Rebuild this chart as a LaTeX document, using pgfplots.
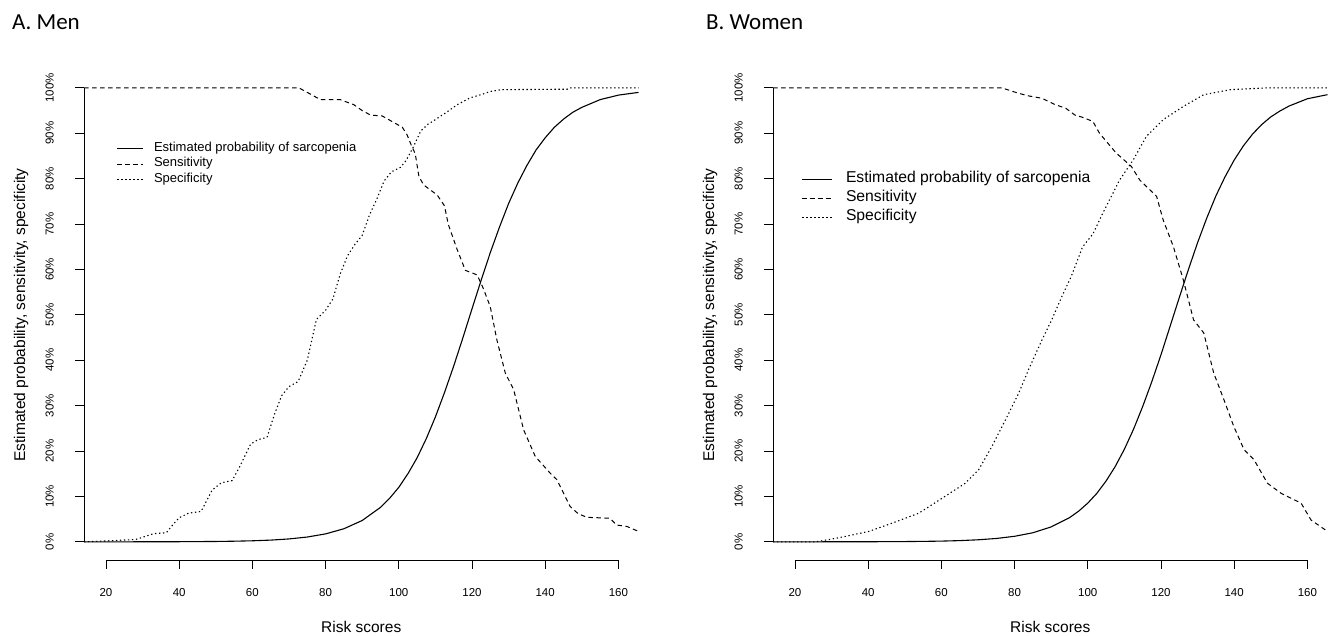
\documentclass[border=0pt]{standalone}
\usepackage{fontspec}
\setmainfont{Liberation Sans}
\newfontfamily\calibri{Carlito}
\usepackage{pgfplots}
\pgfplotsset{compat=1.18}
\usepackage{pgfplotstable}

% men, scores vs percent
\pgfplotstableread{
s p
14 0.0
30 0.01
40 0.03
50 0.08
55 0.14
60 0.23
65 0.38
70 0.64
75 1.06
80 1.75
85 2.88
90 4.70
95 7.59
97.5 9.58
100 12.0
102.5 15.0
105 18.5
107.5 22.7
110 27.5
112.5 32.9
115 38.7
117.5 44.9
120 51.3
122.5 57.6
125 63.7
127.5 69.3
130 74.5
132.5 79.0
135 82.9
137.5 86.3
140 89.0
142.5 91.3
145 93.1
147.5 94.6
150 95.7
155 97.4
160 98.4
165.5 99.0
}\menprob
\pgfplotstableread{
s p
14 100
72.7 100
75 99
78.6 97.4
84 97.4
87.7 96.3
90 95
92.3 94
95.5 93.8
97.7 92.8
101 91.3
102.3 89.6
103.6 87
104.5 85.5
105.5 80.5
106.8 78.6
110.5 76.4
112.5 74
113.5 70
115.9 64.5
118.2 59.8
121.4 58.8
123 56
125 51.8
126.8 44.5
129.1 37.2
131.4 33.5
134.1 24.7
137.3 18.8
141.4 15.1
143.2 13.7
146.8 7.8
149 6.2
151.4 5.4
157.7 5.2
159.5 3.7
162.3 3.4
165.5 2.3
}\mensens
\pgfplotstableread{
s p
14 0
20 0.2
25 0.4
28 0.5
30 1.0
33 1.8
36.5 2.0
38 3.5
40 5.3
42.5 6.3
46 6.7
49 11.4
51.5 13.0
54.5 13.5
56.5 16.5
59.5 21.5
61.5 22.5
64 23.0
66 28.0
68 32.2
70 34.2
72.5 35.3
75 40.0
77.5 49.0
80 51.0
82 53.5
84 59.0
86 63.0
88 65.5
90 67.5
92 72.0
94 75.5
96 79.5
98 81.5
100.5 82.5
102 84.0
104 87.0
106 90.5
108 92.0
110 93.0
113 94.6
116 96.3
119.5 97.8
122.5 98.5
125 99.2
128 99.6
146 99.7
147 100
165.5 100
}\menspec

% women
\pgfplotstableread{
s p
14 0.0
30 0.01
40 0.02
50 0.06
55 0.10
60 0.16
65 0.27
70 0.45
75 0.74
80 1.22
85 2.00
90 3.29
95 5.32
97.5 6.75
100 8.53
102.5 10.7
105 13.4
107.5 16.6
110 20.4
112.5 24.8
115 29.8
117.5 35.3
120 41.2
122.5 47.5
125 53.8
127.5 60.0
130 65.9
132.5 71.3
135 76.2
137.5 80.4
140 84.1
142.5 87.2
145 89.8
147.5 91.9
150 93.6
152.5 94.9
155 96.0
160 97.6
165.5 98.5
}\womprob
\pgfplotstableread{
s p
14 100
76.5 100
81.1 98.8
84 98.2
87.5 97.7
91.1 96.3
94 95.5
96.5 94
98.6 93.5
101.4 92.6
103.2 90
107.8 85.6
111.9 82.7
114.2 79.7
118.8 76.1
120.6 70.9
123.4 65
126.1 57.7
128.9 48.9
131.7 46
134.4 37.2
137.2 31.3
139.9 25.4
142.7 20.3
145.4 18.1
149.1 12.9
152.8 10.7
158.3 8.5
161 4.8
165.5 2.3
}\womsens
\pgfplotstableread{
s p
14 0
25.6 0
30 0.6
33.8 1.2
40.2 2.3
46.5 4.1
53.8 6.3
60.2 9.6
66.5 12.9
70.2 15.9
73.8 21
78.4 28.3
81.1 32.7
83.8 37.9
87.5 44.5
90.2 49
92.9 54
95.5 58.5
98.6 65
101.4 67.8
104.1 72.4
108.7 79.7
112.4 84.1
116 89.3
120.6 93
126.1 95.9
131.7 98.5
139 99.6
149 100
165.5 100
}\womspec

\pgfplotsset{
  rplot/.style={
    scale only axis, width=554.5pt, height=490.3pt,
    xmin=14, xmax=165.5, ymin=-4, ymax=104,
    clip=false,
    axis line style={draw=none},
    xtick={20,40,...,160}, ytick={0,10,...,100},
    yticklabel={\pgfmathprintnumber{\tick}\%},
    xtick pos=bottom, ytick pos=left,
    tick align=outside, major tick length=9pt,
    tick style={black, line width=0.8pt},
    /pgf/number format/assume math mode=true,
    tick label style={font=\fontsize{11.5}{13}\selectfont},
    yticklabel style={rotate=90, anchor=south, inner ysep=21pt},
    xticklabel style={anchor=north},
    xticklabel shift=16pt,
    label style={font=\fontsize{15.5}{18}\selectfont},
    xlabel={Risk scores},
    ylabel={Estimated probability, sensitivity, specificity},
    xlabel style={at={(axis description cs:0.5,-0.1367)}, anchor=center},
    ylabel style={at={(axis description cs:-0.1136,0.5)}, anchor=center},
    legend cell align=left,
  },
  prob/.style={black, line width=1.1pt},
  sens/.style={black, line width=1pt, dash pattern=on 4.5pt off 3.5pt},
  spec/.style={black, line width=1.1pt, dash pattern=on 1.3pt off 2.7pt},
}

\begin{document}
\begin{tikzpicture}
\useasboundingbox (0,0) rectangle (1340pt,636pt);

\node[anchor=base west, inner sep=0pt, font=\calibri\fontsize{23}{27}\selectfont] at (12pt,606pt) {A. Men};
\node[anchor=base west, inner sep=0pt, font=\calibri\fontsize{23}{27}\selectfont] at (706pt,606pt) {B. Women};

% A. Men
\begin{axis}[rplot, at={(84pt,76pt)}, anchor=south west,
  legend style={at={(axis cs:23,88.3)}, anchor=north west, draw=none, fill=none,
    inner sep=0pt, outer sep=0pt, row sep=0pt, column sep=10pt,
    font=\fontsize{13}{15}\selectfont,
    nodes={inner sep=0pt, text height=10.5pt, text depth=5pt}},
  legend image code/.code={\draw[#1] (0pt,0pt) -- (26pt,0pt);},
]
\addplot[prob] table[x=s, y=p] {\menprob};
\addplot[sens] table[x=s, y=p] {\mensens};
\addplot[spec] table[x=s, y=p] {\menspec};
\legend{Estimated probability of sarcopenia, Sensitivity, Specificity}
\draw[black, line width=0.8pt] (axis cs:20,-4) -- (axis cs:160,-4);
\draw[black, line width=0.8pt] (axis cs:14,0) -- (axis cs:14,100);
\end{axis}

% B. Women
\begin{axis}[rplot, at={(773pt,76pt)}, anchor=south west,
  legend style={at={(axis cs:21.9,81.85)}, anchor=north west, draw=none, fill=none,
    inner sep=0pt, outer sep=0pt, row sep=0pt, column sep=13pt,
    font=\fontsize{15.7}{18}\selectfont,
    nodes={inner sep=0pt, text height=12.5pt, text depth=6.5pt}},
  legend image code/.code={\draw[#1] (0pt,0pt) -- (30pt,0pt);},
]
\addplot[prob] table[x=s, y=p] {\womprob};
\addplot[sens] table[x=s, y=p] {\womsens};
\addplot[spec] table[x=s, y=p] {\womspec};
\legend{Estimated probability of sarcopenia, Sensitivity, Specificity}
\draw[black, line width=0.8pt] (axis cs:20,-4) -- (axis cs:160,-4);
\draw[black, line width=0.8pt] (axis cs:14,0) -- (axis cs:14,100);
\end{axis}
\end{tikzpicture}
\end{document}
